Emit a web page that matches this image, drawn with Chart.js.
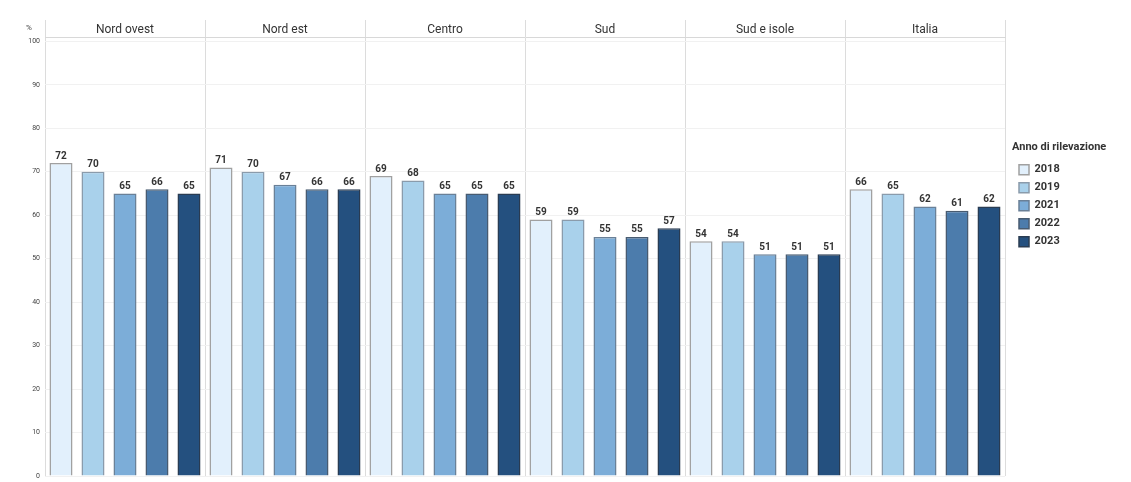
<!DOCTYPE html>
<html>
<head>
<meta charset="utf-8">
<script src="https://cdn.jsdelivr.net/npm/chart.js@4/dist/chart.umd.min.js"></script>
<style>
  html, body { margin: 0; padding: 0; background: #fff; }
  #wrap { width: 1131px; height: 482px; }
</style>
</head>
<body>
<div id="wrap"><canvas id="chart"></canvas></div>
<script>
// categorie e serie
const regioni = ['Nord ovest', 'Nord est', 'Centro', 'Sud', 'Sud e isole', 'Italia'];
const anni = ['2018', '2019', '2021', '2022', '2023'];
const v2018 = [72, 71, 69, 59, 54, 66];
const v2019 = [70, 70, 68, 59, 54, 65];
const v2021 = [65, 67, 65, 55, 51, 62];
const v2022 = [66, 66, 65, 55, 51, 61];
const v2023 = [65, 66, 65, 57, 51, 62];
const yTicks = [0, 10, 20, 30, 40, 50, 60, 70, 80, 90, 100];

const fills = ['#e2f0fc', '#a9d1eb', '#7cadd8', '#4c7cac', '#24507f'];
const borders = ['#a0a0a0', '#8a9bab', '#6a8097', '#485b70', '#2a3c52'];
const FONT = 'Roboto, "Liberation Sans", sans-serif';

const serie = [v2018, v2019, v2021, v2022, v2023];

// etichette dei valori sopra le barre
const valueLabels = {
    id: 'valueLabels',
    afterDatasetsDraw(chart) {
        const ctx = chart.ctx;
        ctx.save();
        ctx.font = 'bold 10px ' + FONT;
        ctx.fillStyle = '#333';
        ctx.textAlign = 'center';
        ctx.textBaseline = 'bottom';
        chart.data.datasets.forEach((ds, i) => {
            chart.getDatasetMeta(i).data.forEach((bar, j) => {
                ctx.fillText(ds.data[j], bar.x, bar.y - 2);
            });
        });
        ctx.restore();
    }
};

// simbolo % sopra l'asse y
const percentSign = {
    id: 'percentSign',
    afterDraw(chart) {
        const ctx = chart.ctx;
        ctx.save();
        ctx.font = '8px ' + FONT;
        ctx.fillStyle = '#444';
        ctx.textAlign = 'center';
        ctx.textBaseline = 'middle';
        ctx.fillText('%', chart.chartArea.left - 16, chart.chartArea.top - 9);
        ctx.restore();
    }
};

// legenda più larga, per lasciare lo spazio a destra come nell'originale
const legendSpace = {
    id: 'legendSpace',
    beforeLayout(chart) {
        const lg = chart.legend;
        if (lg && !lg._patched) {
            const fit = lg.fit;
            lg.fit = function () { fit.call(this); this.width = 126; };
            lg._patched = true;
        }
    },
    afterLayout(chart) {
        if (chart.legend) {
            chart.legend.left += 7;
            chart.legend.right += 7;
        }
    }
};

new Chart(document.getElementById('chart'), {
    type: 'bar',
    data: {
        labels: regioni,
        datasets: anni.map((a, i) => ({
            label: a,
            data: serie[i],
            backgroundColor: fills[i],
            borderColor: borders[i],
            borderWidth: 1.5
        }))
    },
    options: {
        responsive: true,
        maintainAspectRatio: false,
        animation: false,
        layout: { padding: { top: 0, bottom: 6, left: 0, right: 0 } },
        datasets: { bar: { categoryPercentage: 1.0, barPercentage: 0.72 } },
        plugins: {
            tooltip: { enabled: false },
            legend: {
                position: 'right',
                align: 'start',
                title: {
                    display: true,
                    text: 'Anno di rilevazione',
                    position: 'start',
                    color: '#333',
                    font: { family: FONT, size: 11, weight: 'bold' },
                    padding: { top: 142, bottom: 2 }
                },
                labels: {
                    boxWidth: 10,
                    boxHeight: 10,
                    padding: 7,
                    color: '#333',
                    font: { family: FONT, size: 11, weight: 'bold' }
                }
            }
        },
        scales: {
            x: {
                position: 'top',
                afterFit: (s) => { s.height = 37; },
                grid: {
                    offset: true,
                    color: '#dcdcdc',
                    tickColor: '#dcdcdc',
                    tickLength: 17,
                    drawTicks: true
                },
                border: { display: true, color: '#d8d8d8' },
                ticks: {
                    padding: -17,
                    color: '#333',
                    font: { family: FONT, size: 12 }
                }
            },
            y: {
                min: 0,
                max: 101,
                afterFit: (s) => {
                    s.width = 45;
                    s.paddingTop = 0;
                    s.paddingBottom = 0;
                },
                afterBuildTicks: (s) => { s.ticks = yTicks.map(v => ({ value: v })); },
                grid: { color: '#f1f1f1', drawTicks: false },
                border: { display: false },
                ticks: {
                    padding: 5,
                    color: '#444',
                    font: { family: FONT, size: 7 }
                }
            }
        }
    },
    plugins: [valueLabels, percentSign, legendSpace]
});
</script>
</body>
</html>
